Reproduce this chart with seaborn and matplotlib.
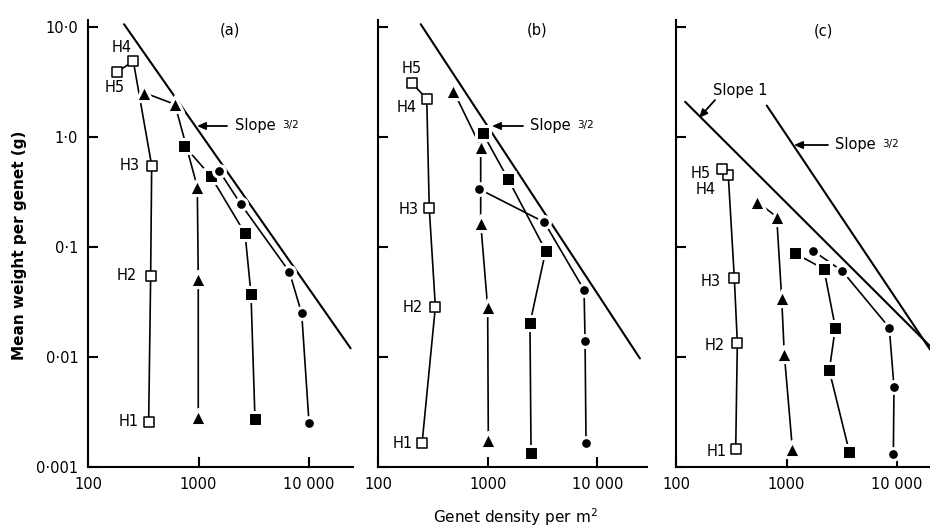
import numpy as np
import pandas as pd
import matplotlib
matplotlib.use("Agg")
import matplotlib.pyplot as plt
import seaborn as sns

# ---------------- data ----------------
harvests = ["H1", "H2", "H3", "H4", "H5"]

# panel (a)
a_open_x = [354, 369, 377, 257, 184]
a_open_y = [0.00258, 0.0548, 0.55, 4.9, 3.9]
a_tri_x = [995, 995, 975, 612, 321]
a_tri_y = [0.00283, 0.0512, 0.353, 1.98, 2.53]
a_sq_x = [3244, 2985, 2637, 1288, 740]
a_sq_y = [0.00273, 0.0376, 0.133, 0.442, 0.834]
a_ci_x = [10000, 8590, 6637, 2411, 1535]
a_ci_y = [0.00253, 0.0249, 0.0596, 0.246, 0.494]

# panel (b)
b_open_x = [251, 332, 292, 277, 205]
b_open_y = [0.00164, 0.0286, 0.225, 2.21, 3.07]
b_tri_x = [1011, 997, 861, 861, 484]
b_tri_y = [0.00176, 0.0283, 0.166, 0.816, 2.64]
b_sq_x = [2483, 2427, 3380, 1538, 898]
b_sq_y = [0.00135, 0.0202, 0.0925, 0.412, 1.09]
b_ci_x = [7890, 7730, 7570, 3282, 836]
b_ci_y = [0.00164, 0.014, 0.0407, 0.168, 0.336]

# panel (c)
c_open_x = [347, 359, 337, 297, 259]
c_open_y = [0.00145, 0.01346, 0.0527, 0.456, 0.515]
c_tri_x = [1130, 955, 904, 815, 544]
c_tri_y = [0.00147, 0.0107, 0.0344, 0.188, 0.257]
c_sq_x = [3700, 2439, 2767, 2183, 1194]
c_sq_y = [0.00138, 0.00754, 0.0185, 0.063, 0.0877]
c_ci_x = [9270, 9390, 8510, 3200, 1726]
c_ci_y = [0.00132, 0.00537, 0.0185, 0.0604, 0.0929]

# reference lines (end points)
a_slope15_x = [212, 23800]
a_slope15_y = [10.6, 0.012]
b_slope15_x = [244, 24500]
b_slope15_y = [10.6, 0.0097]
c_slope1_x = [121, 19900]
c_slope1_y = [2.09, 0.01256]
c_slope15_x = [663, 19900]
c_slope15_y = [1.93, 0.0117]

ytick_vals = [0.001, 0.01, 0.1, 1.0, 10.0]
ytick_labels = ["0·001", "0·01", "0·1", "1·0", "10·0"]
xtick_vals = [100, 1000, 10000]
xtick_labels = ["100", "1000", "10 000"]

series_names = ["open", "tri", "sq", "ci"]
panels = {
    "a": [(a_open_x, a_open_y), (a_tri_x, a_tri_y), (a_sq_x, a_sq_y), (a_ci_x, a_ci_y)],
    "b": [(b_open_x, b_open_y), (b_tri_x, b_tri_y), (b_sq_x, b_sq_y), (b_ci_x, b_ci_y)],
    "c": [(c_open_x, c_open_y), (c_tri_x, c_tri_y), (c_sq_x, c_sq_y), (c_ci_x, c_ci_y)],
}
rows = []
for p, lst in panels.items():
    for name, (xs, ys) in zip(series_names, lst):
        for h, xv, yv in zip(harvests, xs, ys):
            rows.append(dict(panel=p, series=name, harvest=h, density=xv, weight=yv))
df = pd.DataFrame(rows)

# ---------------- styling ----------------
sns.set_theme(style="ticks")
plt.rcParams["font.family"] = ["DejaVu Sans"]
plt.rcParams["axes.linewidth"] = 1.5
plt.rcParams["text.color"] = "black"
plt.rcParams["axes.labelcolor"] = "black"
plt.rcParams["xtick.color"] = "black"
plt.rcParams["ytick.color"] = "black"
plt.rcParams["axes.edgecolor"] = "black"

W, H = 930, 527
fig = plt.figure(figsize=(W / 100, H / 100), dpi=100)

ylim = (0.001, 10 ** (1 + 7 / 110))
ax_specs = {
    "a": dict(left=88, right=353, xmax=10 ** (2 + 265 / 110.5)),
    "b": dict(left=378.3, right=647.3, xmax=10 ** (2 + 269 / 109.5)),
    "c": dict(left=676, right=930, xmax=10 ** (2 + 254 / 110.5)),
}
top_px, bot_px = 20, 467

marker_style = {
    "open": dict(marker="s", s=42, facecolor="white", edgecolor="black", linewidth=1.1),
    "tri": dict(marker="^", s=135, facecolor="black", edgecolor="white", linewidth=2.2),
    "sq": dict(marker="s", s=88, facecolor="black", edgecolor="white", linewidth=2.2),
    "ci": dict(marker="o", s=72, facecolor="black", edgecolor="white", linewidth=2.2),
}

axes = {}
for p, spec in ax_specs.items():
    ax = fig.add_axes([spec["left"] / W, (H - bot_px) / H,
                       (spec["right"] - spec["left"]) / W, (bot_px - top_px) / H])
    axes[p] = ax
    ax.set_xscale("log")
    ax.set_yscale("log")
    ax.set_xlim(100, spec["xmax"])
    ax.set_ylim(*ylim)
    sns.despine(ax=ax)
    ax.set_xticks(xtick_vals)
    ax.set_xticklabels(xtick_labels)
    ax.set_yticks(ytick_vals)
    ax.set_yticklabels(ytick_labels if p == "a" else [])
    ax.minorticks_off()
    ax.tick_params(direction="in", length=7, width=1.5, labelsize=10.5, pad=7,
                   color="black", labelcolor="black")
    ax.patch.set_alpha(0)

# reference slope lines
for p, xs, ys in [("a", a_slope15_x, a_slope15_y), ("b", b_slope15_x, b_slope15_y),
                  ("c", c_slope1_x, c_slope1_y), ("c", c_slope15_x, c_slope15_y)]:
    sns.lineplot(x=xs, y=ys, ax=axes[p], color="black", lw=1.5, sort=False,
                 estimator=None, zorder=1)

# series lines and markers
for p in panels:
    ax = axes[p]
    for name in series_names:
        sub = df[(df.panel == p) & (df.series == name)]
        sns.lineplot(data=sub, x="density", y="weight", ax=ax, color="black", lw=1.2,
                     sort=False, estimator=None, zorder=2)
    for name in series_names:
        sub = df[(df.panel == p) & (df.series == name)]
        st = marker_style[name]
        sns.scatterplot(data=sub, x="density", y="weight", ax=ax, marker=st["marker"],
                        s=st["s"], color=st["facecolor"], edgecolor=st["edgecolor"],
                        linewidth=st["linewidth"], zorder=3, legend=False)
    ax.set_xlabel("")
    ax.set_ylabel("")

# ---------------- annotations ----------------
fs = 10.5
def ftext(x, y, s, **kw):
    kw.setdefault("fontsize", fs)
    kw.setdefault("ha", "center")
    kw.setdefault("va", "center")
    kw.setdefault("color", "black")
    fig.text(x / W, 1 - y / H, s, **kw)

def farrow(x0, y0, x1, y1):
    fig.add_artist(matplotlib.patches.FancyArrowPatch(
        (x0 / W, 1 - y0 / H), (x1 / W, 1 - y1 / H), transform=fig.transFigure,
        arrowstyle="-|>,head_length=5,head_width=2.2", color="black", lw=1.3,
        shrinkA=0, shrinkB=0))

# panel titles
ftext(230, 30, "(a)")
ftext(537, 30, "(b)")
ftext(823, 31, "(c)")

# slope labels
def slope32(xt, y, xa0, xa1):
    farrow(xa0, y, xa1, y)
    ftext(xt, y, "Slope", ha="left")
    ftext(xt + 47, y - 6, "3/2", ha="left", va="top", fontsize=7.5)

slope32(235, 126, 227, 197)
slope32(530, 126, 523, 492)
slope32(835, 145, 828, 794)
ftext(713, 90, "Slope 1", ha="left")
farrow(715, 100, 699, 118)

# harvest labels
for (x, y, s) in [(122, 47, "H4"), (115, 88, "H5"), (130, 166, "H3"), (127, 276, "H2"), (129, 422, "H1"),
                  (412, 69, "H5"), (407, 107, "H4"), (409, 209, "H3"), (413, 308, "H2"), (403, 444, "H1"),
                  (701, 173, "H5"), (706, 189, "H4"), (711, 282, "H3"), (715, 346, "H2"), (717, 451, "H1")]:
    ftext(x, y, s)

# axis titles
ftext(20, 245, "Mean weight per genet (g)", rotation=90, fontsize=11, fontweight="bold")
ftext(515, 517, "Genet density per m$^2$", fontsize=11)

fig.savefig("out.png", dpi=100)
